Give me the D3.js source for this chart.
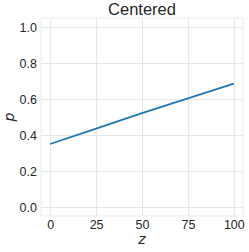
<!DOCTYPE html>
<html>
<head>
<meta charset="utf-8">
<script src="https://cdn.jsdelivr.net/npm/d3@7"></script>
<style>
  body { margin: 0; background: #fff; }
  svg { display: block; font-family: "Liberation Sans", Arial, sans-serif; }
  .grid line { stroke: #e5e5e5; stroke-width: 1; }
  .grid path { display: none; }
  .tick text { fill: #262626; font-size: 12.5px; }
</style>
</head>
<body>
<svg id="chart"></svg>
<script>
// data
var zValues = [0, 25, 50, 75, 100];
var pValues = [0.35, 0.435, 0.522, 0.603, 0.685];
var xTicks = [0, 25, 50, 75, 100];
var yTicks = [0.0, 0.2, 0.4, 0.6, 0.8, 1.0];

const chartW = 249,
    chartH = 252,
    marginL = 41,
    marginT = 18,
    width = 202,
    height = 198;

var svg = d3.select("#chart")
    .attr("width", chartW)
    .attr("height", chartH);

var chart = svg.append("g")
    .attr("transform", "translate(" + marginL + "," + marginT + ")");

var xScale = d3.scaleLinear().domain([-5, 105]).range([0, width]);
var yScale = d3.scaleLinear().domain([-0.05, 1.05]).range([height, 0]);

// frame
chart.append("rect")
    .attr("width", width)
    .attr("height", height)
    .attr("fill", "#fff")
    .attr("stroke", "#ebebeb")
    .attr("stroke-width", 1);

// x grid + labels
var xAxis = d3.axisBottom(xScale)
    .tickValues(xTicks)
    .tickSize(-height)
    .tickPadding(4)
    .tickFormat(function(d) {return d + "";});
chart.append("g")
    .attr("class", "grid")
    .attr("transform", "translate(0," + height + ")")
    .call(xAxis);

var yAxis = d3.axisLeft(yScale)
    .tickValues(yTicks)
    .tickSize(-width)
    .tickPadding(4)
    .tickFormat(d3.format(".1f"));
chart.append("g")
    .attr("class", "grid")
    .call(yAxis);

var line = d3.line()
    .x(function(d, i) {return xScale(zValues[i]);})
    .y(function(d) {return yScale(d);});

chart.append("path")
    .datum(pValues)
    .attr("d", line)
    .attr("fill", "none")
    .attr("stroke", "#1f77b4")
    .attr("stroke-width", 1.8);

// title and axis labels
svg.append("text")
    .attr("x", marginL + width / 2)
    .attr("y", 15)
    .attr("text-anchor", "middle")
    .attr("fill", "#262626")
    .style("font-size", "16.5px")
    .text("Centered");

svg.append("text")
    .attr("x", marginL + xScale(50))
    .attr("y", 243.5)
    .attr("text-anchor", "middle")
    .attr("fill", "#262626")
    .style("font-family", "DejaVu Sans")
    .style("font-style", "italic")
    .style("font-size", "14px")
    .text("z");

svg.append("text")
    .attr("transform", "translate(14," + (marginT + yScale(0.5)) + ") rotate(-90)")
    .attr("text-anchor", "middle")
    .attr("fill", "#262626")
    .style("font-family", "DejaVu Sans")
    .style("font-style", "italic")
    .style("font-size", "14px")
    .text("p");
</script>
</body>
</html>
